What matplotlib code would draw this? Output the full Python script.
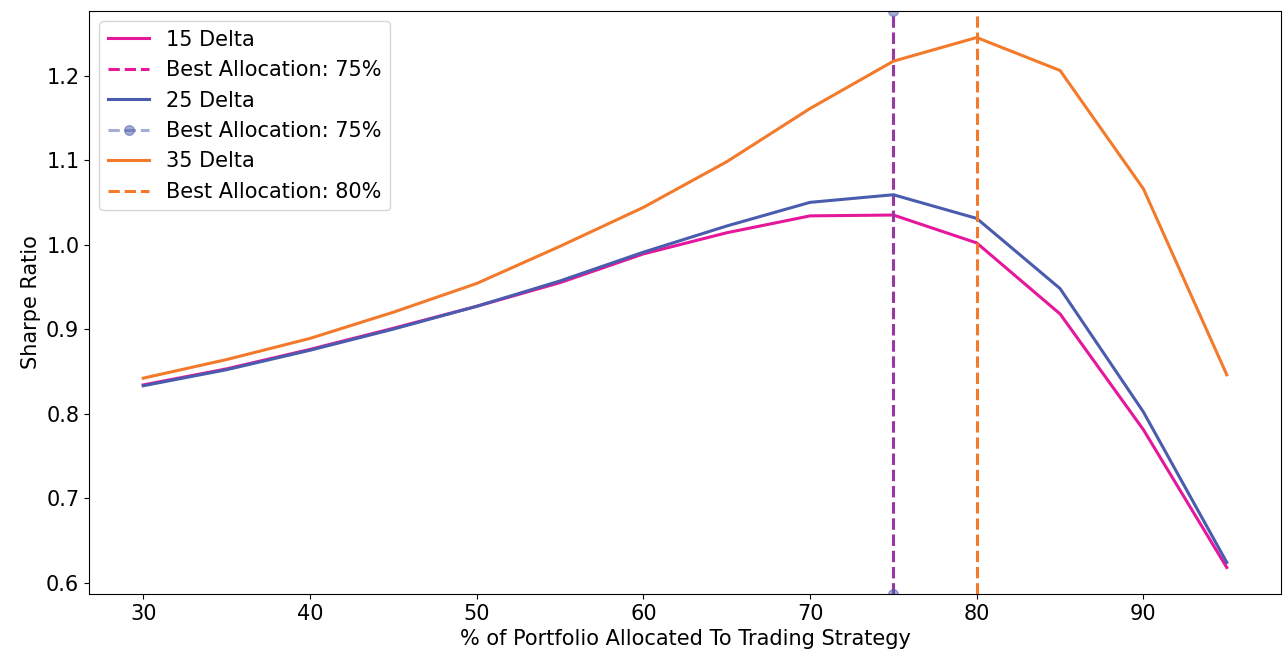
import matplotlib
matplotlib.use("Agg")
import matplotlib.pyplot as plt

allocation = [30, 35, 40, 45, 50, 55, 60, 65, 70, 75, 80, 85, 90, 95]

sharpe_15 = [0.834, 0.853, 0.876, 0.901, 0.927, 0.955, 0.989, 1.014, 1.034, 1.035, 1.002, 0.918, 0.781, 0.618]
sharpe_25 = [0.833, 0.852, 0.875, 0.900, 0.927, 0.957, 0.991, 1.022, 1.050, 1.059, 1.031, 0.948, 0.802, 0.624]
sharpe_35 = [0.842, 0.864, 0.889, 0.920, 0.954, 0.998, 1.044, 1.098, 1.161, 1.217, 1.245, 1.206, 1.066, 0.846]

deltas = ["15 Delta", "25 Delta", "35 Delta"]
best_alloc = [75, 75, 80]
colors = ["#e5179a", "#4a5cad", "#f37a2b"]

fig = plt.figure(figsize=(12.83, 6.6), dpi=100)
ax = fig.add_axes([0.0694, 0.1, 0.929, 0.8833])

series = [sharpe_15, sharpe_25, sharpe_35]
for i in range(3):
    ax.plot(allocation, series[i], color=colors[i], lw=2.2, label=deltas[i])
    if i == 1:
        ax.axvline(best_alloc[i], color=colors[i], ls="--", lw=2.2, marker="o",
                   markersize=7, alpha=0.5, label=f"Best Allocation: {best_alloc[i]}%")
    else:
        ax.axvline(best_alloc[i], color=colors[i], ls="--", lw=2.2,
                   label=f"Best Allocation: {best_alloc[i]}%")

ax.set_xlabel("% of Portfolio Allocated To Trading Strategy", fontsize=15)
ax.set_ylabel("Sharpe Ratio", fontsize=15)
ax.tick_params(labelsize=15)
ax.legend(loc="upper left", fontsize=15)

plt.savefig("out.png", dpi=100)
